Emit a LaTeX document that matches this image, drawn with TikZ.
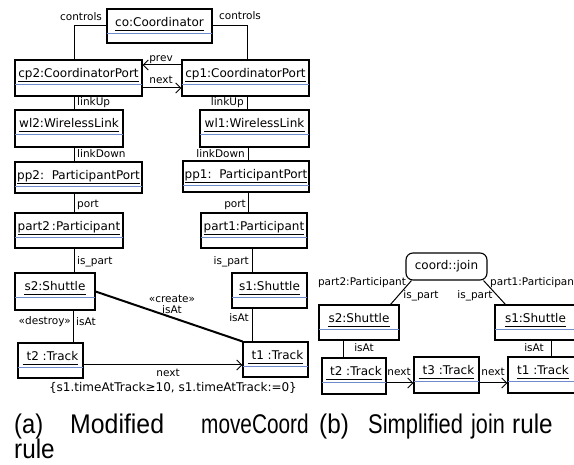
\documentclass[tikz,border=0pt]{standalone}
\usepackage{graphicx}
\usepackage{fontspec}
\setmainfont{DejaVu Sans}
\newfontfamily\capfont{Liberation Sans}
\usetikzlibrary{arrows.meta,calc}
\definecolor{sepblue}{RGB}{110,140,205}
\tikzset{
  objbox/.style={draw,line width=1.1pt,inner sep=0pt,rectangle},
  objtext/.style={inner sep=0pt,font=\fontsize{12}{14}\selectfont},
  ulin/.style={line width=0.9pt},
  seplin/.style={line width=1pt,color=sepblue},
  conn/.style={line width=1pt},
  arr/.style={line width=1pt,-{Straight Barb[length=5pt,width=10pt,line width=1pt]}},
  lab/.style={inner sep=0pt,font=\fontsize{10.5}{12}\selectfont},
  caption/.style={inner sep=0pt,anchor=base west,font=\capfont\fontsize{27}{30}\selectfont},
}
\newcommand{\capw}[2]{\scalebox{#1}[1]{#2}}
\newcommand{\umlobj}[6]{%
  \node[objbox,minimum width={(#4-#2)*1pt},minimum height={(#5-#3)*1pt}] (#1) at ({(#2+#4)/2},{(#3+#5)/2}) {};
  \node[objtext,anchor=base] (#1-t) at ({(#2+#4)/2},{#3+18}) {#6};
  \draw[ulin] ([yshift=-3pt]#1-t.base west) -- ([yshift=-3pt]#1-t.base east);
  \draw[seplin] ([yshift=-25pt,xshift=0.6pt]#1.north west) -- ([yshift=-25pt,xshift=-0.6pt]#1.north east);
}
\begin{document}
\begin{tikzpicture}[x=1pt,y=-1pt]
\useasboundingbox (0,0) rectangle (574,465);
\clip (0,0) rectangle (574,465);
% ---------- (a) ----------
\umlobj{co}{107}{9}{212}{43}{co:Coordinator}
\umlobj{cp2}{15}{60}{142}{96}{cp2:CoordinatorPort}
\umlobj{cp1}{182}{60}{309}{96}{cp1:CoordinatorPort}
\umlobj{wl2}{15}{110}{123}{147}{wl2:WirelessLink}
\umlobj{wl1}{200}{110}{309}{147}{wl1:WirelessLink}
\umlobj{pp2}{15}{162}{142}{193}{pp2:\ \ ParticipantPort}
\umlobj{pp1}{183}{161}{309}{192}{pp1:\ \ ParticipantPort}
\umlobj{part2}{15}{213}{123}{248}{part2\,:Participant}
\umlobj{part1}{201}{213}{307}{248}{part1:Participant}
\umlobj{s2}{15}{273}{95}{310}{s2:Shuttle\ }
\umlobj{s1}{232}{273}{307}{308}{s1:Shuttle\ }
\umlobj{t2}{18}{343}{83}{378}{\ t2\ :Track}
\umlobj{t1}{243}{342}{308}{377}{\ t1\ :Track}

\draw[conn] (co.west) -| ([xshift=-4.5pt]cp2.north);
\draw[conn] (co.east) -| ([xshift=1.5pt]cp1.north);
\node[lab] (lc1) at (81,17) {controls};
\node[lab] (lc2) at (240,16) {controls};
\draw[arr] ([yshift=13pt]cp1.west) -- ([yshift=13pt]cp2.east);
\draw[arr] ([yshift=-10pt]cp2.east) -- ([yshift=-10pt]cp1.west);
\node[lab] (lprev) at (161,60) {prev};
\node[lab] (lnext1) at (161,80) {next};

\draw[conn] ([xshift=-4.5pt]cp2.south) -- ([xshift=-4.5pt]cp2.south |- wl2.north);
\draw[conn] ([xshift=1.5pt]cp1.south) -- ([xshift=1.5pt]cp1.south |- wl1.north);
\node[lab,anchor=west] (lu1) at (77,103) {linkUp};
\node[lab,anchor=east] (lu2) at (244,103) {linkUp};

\draw[conn] ([xshift=5pt]wl2.south) -- ([xshift=5pt]wl2.south |- pp2.north);
\draw[conn] ([xshift=-6.5pt]wl1.south) -- ([xshift=-6.5pt]wl1.south |- pp1.north);
\node[lab,anchor=west] (ld1) at (77,154) {linkDown};
\node[lab,anchor=east] (ld2) at (245,154) {linkDown};

\draw[conn] ([xshift=-4.5pt]pp2.south) -- ([xshift=-4.5pt]pp2.south |- part2.north);
\draw[conn] ([xshift=2pt]pp1.south) -- ([xshift=2pt]pp1.south |- part1.north);
\node[lab,anchor=west] (lp1) at (77,205) {port};
\node[lab,anchor=east] (lp2) at (246,205) {port};

\draw[conn] ([xshift=5pt]part2.south) -- ([xshift=5pt]part2.south |- s2.north);
\draw[conn] ([xshift=-2pt]part1.south) -- ([xshift=-2pt]part1.south |- s1.north);
\node[lab,anchor=west] (li1) at (77,262) {is\_part};
\node[lab,anchor=east] (li2) at (249,262) {is\_part};

\draw[conn] ([xshift=18pt]s2.south) -- ([xshift=18pt]s2.south |- t2.north);
\draw[conn] ([xshift=-17.5pt]s1.south) -- ([xshift=-17.5pt]s1.south |- t1.north);
\node[lab,anchor=east] (ldes) at (71,322) {«destroy»};
\node[lab,anchor=west] (lat1) at (76,322) {isAt};
\node[lab,anchor=east] (lat2) at (249,318) {isAt};

\draw[line width=2pt] (s2.east) -- (t1.north west);
\node[lab] (lcr) at (172,299) {«create»};
\node[lab] (lcra) at (172,310) {isAt};

\draw[arr] ([yshift=-4.5pt]t2.east) -- ([yshift=-4.5pt]t2.east -| t1.west);
\node[lab] (lnext2) at (168,373) {next};
\node[objtext] (cons) at (173,388) {\{s1.timeAtTrack≥10, s1.timeAtTrack:=0\}};

% ---------- (b) ----------
\node[draw,line width=1.1pt,rounded corners=7pt,minimum width=81pt,minimum height=27pt,inner sep=0pt,font=\fontsize{12}{14}\selectfont] (join) at (446.5,266.5) {coord::join};
\umlobj{s2b}{319}{305}{399}{340}{s2:Shuttle\ }
\umlobj{s1b}{495}{305}{576}{340}{s1:Shuttle\ }
\umlobj{t2b}{322}{358}{386}{394}{\ t2\ :Track}
\umlobj{t3b}{414}{357}{479}{393}{\ t3\ :Track}
\umlobj{t1b}{508}{357}{578}{393}{t1\ :Track}

\draw[conn] ([xshift=6pt]join.south west) -- ([xshift=-9pt]s2b.north east);
\draw[conn] ([xshift=-4pt]join.south east) -- ([xshift=11pt]s1b.north west);
\node[lab] (lp2b) at (362,283) {part2:Participant};
\node[lab] (lip1b) at (421,296) {is\_part};
\node[lab] (lip2b) at (475,296) {is\_part};
\node[lab,anchor=west] (lp1b) at (490,283) {part1:Participant};

\draw[conn] ([xshift=-16pt]s2b.south) -- ([xshift=-16pt]s2b.south |- t2b.north);
\draw[conn] ([xshift=57pt]s1b.south west) -- ([xshift=57pt]s1b.south west |- t1b.north);
\node[lab] (lat1b) at (364,348) {isAt};
\node[lab] (lat2b) at (534,348) {isAt};

\draw[arr] ([yshift=-7pt]t2b.east) -- ([yshift=-7pt]t2b.east -| t3b.west);
\draw[arr] ([yshift=-8pt]t3b.east) -- ([yshift=-8pt]t3b.east -| t1b.west);
\node[lab] (ln1b) at (399,372) {next};
\node[lab] (ln2b) at (493,372) {next};

% ---------- captions ----------
\node[caption] (ca1) at (14,434) {\capw{0.88}{(a)}};
\node[caption] (ca2) at (70,434) {\capw{0.92}{Modified}};
\node[caption] (ca3) at (201,434) {\capw{0.77}{moveCoord}};
\node[caption] (ca4) at (319,434) {\capw{0.9}{(b)}};
\node[caption] (ca5) at (368,434) {\capw{0.81}{Simplified}};
\node[caption] (ca6) at (471,434) {\capw{0.8}{join}};
\node[caption] (ca7) at (512,434) {\capw{0.9}{rule}};
\node[caption] (ca8) at (14,459) {\capw{0.9}{rule}};
\end{tikzpicture}
\end{document}
